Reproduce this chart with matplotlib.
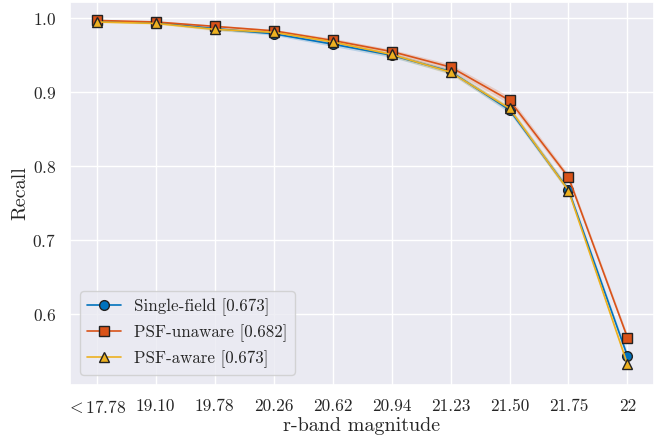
import matplotlib
matplotlib.use("Agg")
import matplotlib.pyplot as plt
import seaborn as sns
import numpy as np

sns.set_theme(style="darkgrid")
plt.rcParams['font.family'] = 'serif'
plt.rcParams['font.serif'] = ['cmr10', 'DejaVu Serif']
plt.rcParams['mathtext.fontset'] = 'cm'
plt.rcParams['axes.formatter.use_mathtext'] = True
plt.rcParams['axes.unicode_minus'] = False

categories = [r'${<}$17.78', '19.10', '19.78', '20.26', '20.62', '20.94', '21.23', '21.50', '21.75', '22']
single_field = [0.996, 0.994, 0.986, 0.979, 0.965, 0.950, 0.928, 0.876, 0.768, 0.543]
psf_unaware = [0.997, 0.995, 0.989, 0.983, 0.970, 0.955, 0.934, 0.889, 0.785, 0.568]
psf_aware = [0.995, 0.993, 0.985, 0.981, 0.968, 0.951, 0.927, 0.878, 0.767, 0.532]
single_err = [0.001, 0.001, 0.002, 0.002, 0.003, 0.003, 0.003, 0.004, 0.004, 0.004]
unaware_err = [0.001, 0.001, 0.002, 0.002, 0.003, 0.003, 0.004, 0.005, 0.004, 0.004]
aware_err = [0.001, 0.001, 0.002, 0.002, 0.003, 0.003, 0.003, 0.004, 0.004, 0.004]

series = [
    ('Single-field [0.673]', single_field, single_err, '#0072BD', 'o'),
    ('PSF-unaware [0.682]', psf_unaware, unaware_err, '#D95319', 's'),
    ('PSF-aware [0.673]', psf_aware, aware_err, '#EDB120', '^'),
]

fig = plt.figure(figsize=(6.55, 4.4), dpi=100)
ax = fig.add_axes([0.107, 0.125, 0.8915, 0.8705])
x = np.arange(len(categories))
for label, vals, err, color, marker in series:
    v = np.array(vals)
    e = np.array(err)
    ax.fill_between(x, v - e, v + e, color=color, alpha=0.2, linewidth=0)
    ax.plot(x, v, color=color, lw=1.2, marker=marker, markersize=7,
            markerfacecolor=color, markeredgecolor='#222222', markeredgewidth=1.0,
            label=label)

ax.set_xticks(x)
ax.set_xticklabels(categories)
ax.set_xlim(-0.45, 9.45)
ax.set_ylim(0.504, 1.022)
ax.set_yticks([0.6, 0.7, 0.8, 0.9, 1.0])
ax.tick_params(labelsize=12.5, pad=4)
ax.set_xlabel('r-band magnitude', fontsize=14.5, labelpad=1)
ax.set_ylabel('Recall', fontsize=14.5, labelpad=2)
ax.legend(loc='lower left', fontsize=12.2, frameon=True, borderaxespad=0.6)

fig.savefig('out.png', dpi=100)
